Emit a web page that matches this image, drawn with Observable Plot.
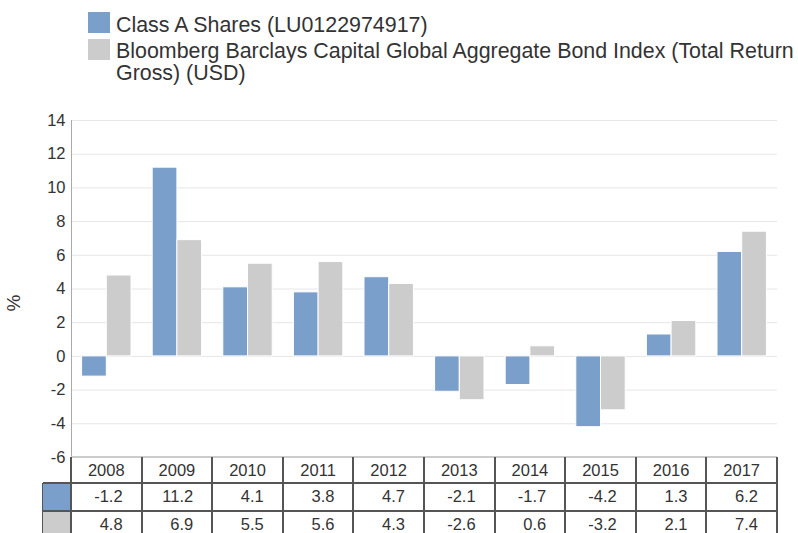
<!DOCTYPE html>
<html><head><meta charset="utf-8">
<script src="https://cdn.jsdelivr.net/npm/d3@7"></script>
<script src="https://cdn.jsdelivr.net/npm/@observablehq/plot@0.6"></script>
<style>
body{margin:0;width:798px;height:533px;overflow:hidden;position:relative;font-family:"Liberation Sans",Arial,sans-serif;color:#333;background:#fff}
.abs{position:absolute}
.lg-sw{position:absolute;width:22px;height:21px}
.lg-tx{position:absolute;font-size:21.4px;line-height:22px;white-space:nowrap;color:#333}
.cell{position:absolute;font-size:16px;box-sizing:border-box;white-space:nowrap;color:#333}
</style></head><body>
<div id="legend"></div>
<div id="chart" class="abs" style="left:0;top:100px"></div>
<div id="ylabel" class="abs" style="font-size:19px;line-height:22px;color:#333">%</div>
<script>
const years = ["2008","2009","2010","2011","2012","2013","2014","2015","2016","2017"];
const seriesNames = ["Class A Shares (LU0122974917)", "Bloomberg Barclays Capital Global Aggregate Bond Index (Total Return Gross) (USD)"];
const classA = [-1.2, 11.2, 4.1, 3.8, 4.7, -2.1, -1.7, -4.2, 1.3, 6.2];
const bondIndex = [4.8, 6.9, 5.5, 5.6, 4.3, -2.6, 0.6, -3.2, 2.1, 7.4];
const yTicks = [-6, -4, -2, 0, 2, 4, 6, 8, 10, 12, 14];
const colors = ["#7b9fcb", "#cccccc"];

const seriesValues = [classA, bondIndex];
const data = years.flatMap((yr, i) => seriesNames.map((s, k) => ({year: yr, series: s, value: seriesValues[k][i]})));

const W = 798, H = 367, mL = 71, mR = 21, mT = 20, mB = 10;
const chartTop = 100;
const xOpts = {domain: years, paddingInner: 0.3, paddingOuter: 0.15, round: false, axis: null, label: null};
const xPre = Plot.scale({x: {type: "band", ...xOpts, range: [mL, W - mR]}});
const half = xPre.bandwidth / 2;

const chart = Plot.plot({
  width: W, height: H,
  marginLeft: mL, marginRight: mR, marginTop: mT, marginBottom: mB,
  style: {fontFamily: '"Liberation Sans", Arial, sans-serif', fontSize: "16.5px", color: "#333", background: "transparent", overflow: "visible"},
  x: xOpts,
  y: {domain: [-6, 14], ticks: yTicks, tickSize: 0, tickPadding: 6, label: null, tickFormat: d => String(d)},
  color: {domain: seriesNames, range: colors},
  marks: [
    Plot.ruleY(yTicks, {stroke: "#e6e6e6", strokeWidth: 1}),
    Plot.barY(data.filter(d => d.series === seriesNames[0]), {x: "year", y: "value", fill: "series", stroke: "#ffffff", strokeWidth: 1, insetRight: half}),
    Plot.barY(data.filter(d => d.series === seriesNames[1]), {x: "year", y: "value", fill: "series", stroke: "#ffffff", strokeWidth: 1, insetLeft: half})
  ]
});
document.getElementById("chart").appendChild(chart);

const ys = chart.scale("y");
const xs = chart.scale("x");
const yTopPx = chartTop + ys.apply(14);
const yBotPx = chartTop + ys.apply(-6);
const step = xs.step;
const bw = xs.bandwidth;
const colLeft = i => xs.apply(years[i]) - (step - bw) / 2;
const tableLeft = colLeft(0);
const tableRight = colLeft(years.length - 1) + step;

const body = document.body;
function box(styleObj, text) {
  const d = document.createElement("div");
  d.className = "abs";
  Object.assign(d.style, styleObj);
  if (text !== undefined) d.textContent = text;
  body.appendChild(d);
  return d;
}
// axis line
box({left: (tableLeft - 0.5) + "px", top: yTopPx + "px", width: "1px", height: (yBotPx - yTopPx) + "px", background: "#aaaaaa"});

// y label
const yl = document.getElementById("ylabel");
yl.style.left = "6px";
yl.style.top = ((yTopPx + yBotPx) / 2 + 14 - 11) + "px";
yl.style.transform = "rotate(-90deg)";

// legend
const leg = document.getElementById("legend");
seriesNames.forEach((s, k) => {
  const sw = document.createElement("div");
  sw.className = "lg-sw";
  sw.style.left = "88px"; sw.style.top = (12 + k * 27) + "px";
  sw.style.background = colors[k];
  leg.appendChild(sw);
  const tx = document.createElement("div");
  tx.className = "lg-tx";
  tx.style.left = "116px"; tx.style.top = (14 + k * 26) + "px";
  const parts = s.split(" Gross)");
  if (parts.length > 1) {
    tx.appendChild(document.createTextNode(parts[0]));
    tx.appendChild(document.createElement("br"));
    tx.appendChild(document.createTextNode("Gross)" + parts[1]));
  } else tx.textContent = s;
  leg.appendChild(tx);
});

// table
const rowTops = [yBotPx, yBotPx + 26, yBotPx + 53.5];
const rowH = [26, 27.5, 27.5];
const swLeft = tableLeft - 28;
const lineC = "#555";
box({left: tableLeft + "px", top: (yBotPx - 1) + "px", width: (tableRight - tableLeft) + "px", height: "2px", background: "#cccccc"});
[rowTops[1], rowTops[2]].forEach(t => box({left: swLeft + "px", top: (t - 1) + "px", width: (tableRight - swLeft + 1) + "px", height: "2px", background: lineC}));
for (let i = 0; i <= years.length; i++) {
  const x = i < years.length ? colLeft(i) : tableRight;
  box({left: (x - 1) + "px", top: yBotPx + "px", width: "2px", height: (533 - yBotPx) + "px", background: lineC});
}
box({left: (swLeft - 1) + "px", top: rowTops[1] + "px", width: "2px", height: (533 - rowTops[1]) + "px", background: lineC});
seriesNames.forEach((s, k) => {
  box({left: swLeft + "px", top: (rowTops[k + 1] + 1) + "px", width: (tableLeft - swLeft - 1) + "px", height: (rowH[k + 1] - 2) + "px", background: colors[k]});
});
years.forEach((yr, i) => {
  const d = box({left: colLeft(i) + "px", top: rowTops[0] + "px", width: step + "px", height: rowH[0] + "px", lineHeight: (rowH[0] + 1) + "px", textAlign: "center", fontSize: "16.5px", color: "#333"}, yr);
  d.className = "abs cell";
});
seriesValues.forEach((vals, k) => {
  vals.forEach((v, i) => {
    const d = box({left: colLeft(i) + "px", top: rowTops[k + 1] + "px", width: step + "px", height: rowH[k + 1] + "px", lineHeight: rowH[k + 1] + "px", textAlign: "right", paddingRight: "19px", fontSize: "16.5px", color: "#333"}, v.toFixed(1));
    d.className = "abs cell";
  });
});
</script>
</body></html>
